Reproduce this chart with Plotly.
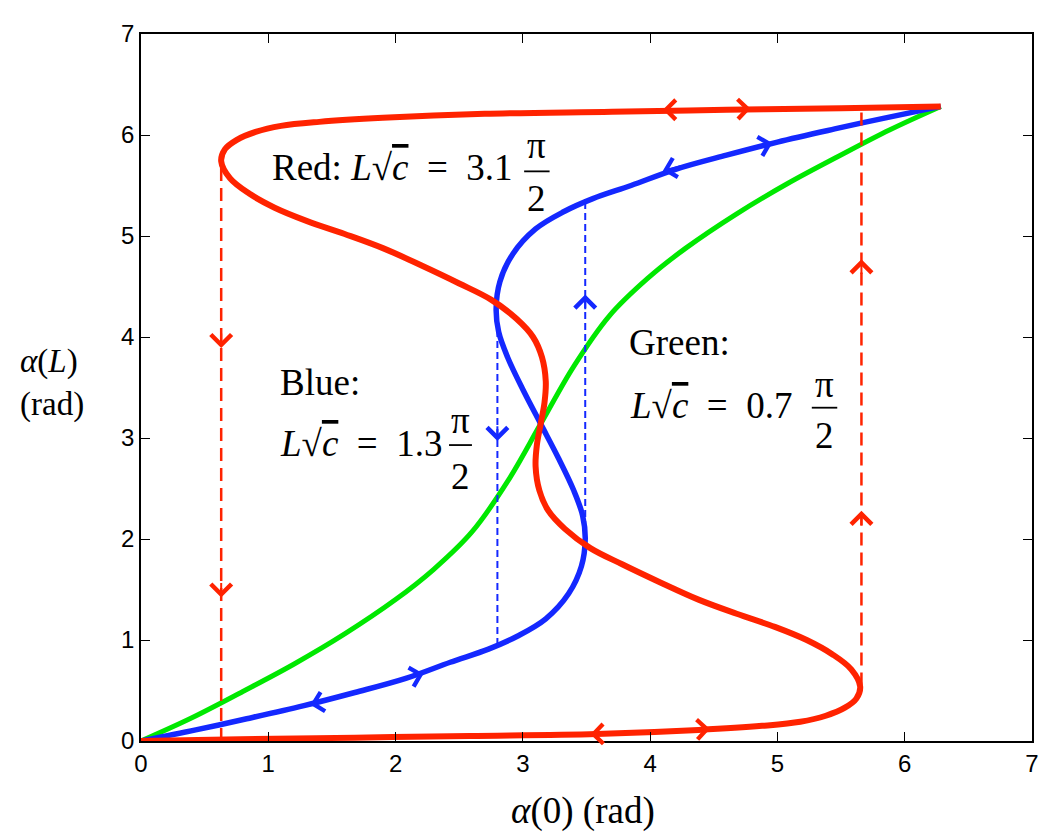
import plotly.graph_objects as go

# Red: L*sqrt(c) = 3.1*pi/2
red_x = [0.0, 0.78, 1.68, 2.58, 3.58, 4.38, 4.88, 5.18, 5.38, 5.53, 5.62, 5.65,
         5.58, 5.43, 5.23, 4.98, 4.68, 4.38, 4.08, 3.78, 3.53, 3.33, 3.20, 3.13, 3.10, 3.11,
         3.14, 3.17, 3.18, 3.15, 3.08, 2.95, 2.75, 2.50, 2.20, 1.90, 1.60, 1.30, 1.05, 0.85,
         0.70, 0.63, 0.66, 0.75, 0.90, 1.10, 1.40, 1.90, 2.70, 3.70, 4.60, 5.50, 6.283]
red_y = [0.0, 0.018, 0.033, 0.05, 0.07, 0.11, 0.15, 0.19, 0.25, 0.33, 0.42, 0.54,
         0.71, 0.86, 1.00, 1.13, 1.26, 1.40, 1.57, 1.75, 1.91, 2.10, 2.28, 2.48, 2.72, 2.93,
         3.14, 3.35, 3.56, 3.80, 4.00, 4.18, 4.37, 4.53, 4.71, 4.88, 5.02, 5.15, 5.28, 5.42,
         5.57, 5.74, 5.86, 5.95, 6.03, 6.09, 6.13, 6.17, 6.21, 6.23, 6.25, 6.265, 6.283]

# Blue: L*sqrt(c) = 1.3*pi/2
blue_x = [0.0, 0.43, 0.83, 1.28, 1.68, 2.08, 2.43, 2.73, 2.96, 3.18, 3.36, 3.46, 3.49, 3.47,
          3.40, 3.28, 3.14, 3.00, 2.88, 2.81, 2.79, 2.82, 2.92, 3.10, 3.32, 3.55, 3.85, 4.20,
          4.60, 5.00, 5.45, 5.85, 6.283]
blue_y = [0.0, 0.11, 0.22, 0.35, 0.48, 0.62, 0.78, 0.91, 1.04, 1.21, 1.46, 1.73, 2.00, 2.23,
          2.48, 2.80, 3.14, 3.48, 3.80, 4.05, 4.28, 4.55, 4.82, 5.07, 5.24, 5.37, 5.50, 5.66,
          5.80, 5.93, 6.06, 6.17, 6.283]

# Green: L*sqrt(c) = 0.7*pi/2
green_x = [0.0, 0.4, 0.8, 1.2, 1.6, 2.0, 2.3, 2.6, 2.88, 3.14, 3.40, 3.68, 3.98, 4.28, 4.68,
           5.08, 5.48, 5.88, 6.283]
green_y = [0.0, 0.23, 0.49, 0.76, 1.06, 1.40, 1.70, 2.07, 2.57, 3.14, 3.71, 4.21, 4.58, 4.88,
           5.22, 5.52, 5.79, 6.05, 6.283]

# vertical jumps (dashed): x, y_start, y_end
red_jump_x = [0.63, 5.66]
red_jump_y0 = [0.0, 0.55]
red_jump_y1 = [5.74, 6.27]
blue_jump_x = [2.80, 3.49]
blue_jump_y0 = [0.95, 2.00]
blue_jump_y1 = [4.28, 5.35]

# direction arrows: tip x, tip y, tail x, tail y
red_curve_arrows = [(4.10, 6.25, 4.25, 6.25), (4.79, 6.26, 4.64, 6.255),
                    (3.53, 0.068, 3.68, 0.072), (4.47, 0.12, 4.32, 0.11)]
red_jump_arrows = [(0.63, 3.89, 0.63, 4.05), (0.63, 1.42, 0.63, 1.58),
                   (5.66, 2.28, 5.66, 2.12), (5.66, 4.77, 5.66, 4.61)]
blue_curve_arrows = [(4.96, 5.92, 4.81, 5.87), (4.10, 5.645, 4.25, 5.695),
                     (2.22, 0.665, 2.07, 0.615), (1.33, 0.36, 1.48, 0.405)]
blue_jump_arrows = [(2.80, 2.97, 2.80, 3.13), (3.49, 4.42, 3.49, 4.26)]

RED = 'rgb(255,35,0)'
BLUE = 'rgb(20,40,255)'
GREEN = 'rgb(0,232,0)'
SERIF = 'Liberation Serif'

fig = go.Figure()

fig.add_trace(go.Scatter(x=green_x, y=green_y, mode='lines', line=dict(color=GREEN, width=5, shape='spline')))
fig.add_trace(go.Scatter(x=blue_x, y=blue_y, mode='lines', line=dict(color=BLUE, width=5.5, shape='spline')))
fig.add_trace(go.Scatter(x=red_x, y=red_y, mode='lines', line=dict(color=RED, width=6, shape='spline')))

for x, y0, y1 in zip(red_jump_x, red_jump_y0, red_jump_y1):
    fig.add_trace(go.Scatter(x=[x, x], y=[y0, y1], mode='lines',
                             line=dict(color=RED, width=2.5, dash='13px,7px')))
for x, y0, y1 in zip(blue_jump_x, blue_jump_y0, blue_jump_y1):
    fig.add_trace(go.Scatter(x=[x, x], y=[y0, y1], mode='lines',
                             line=dict(color=BLUE, width=2, dash='7px,4px')))

annotations = []
for arrows, col, size in ((red_curve_arrows, RED, 1.9), (red_jump_arrows, RED, 2.0),
                          (blue_curve_arrows, BLUE, 1.9), (blue_jump_arrows, BLUE, 2.0)):
    for x, y, tx, ty in arrows:
        annotations.append(dict(x=x, y=y, ax=tx, ay=ty, xref='x', yref='y', axref='x', ayref='y',
                                text='', showarrow=True, arrowhead=4, arrowsize=size,
                                arrowwidth=2, arrowcolor=col, standoff=0))

txt = dict(family=SERIF, size=37, color='black')
sqrt_c = "<i>L</i>√<span style='text-decoration:overline'><i>c</i></span>"
eq = '\u2002=\u2002'


def label(x, y, text, anchor='left'):
    annotations.append(dict(x=x, y=y, xref='x', yref='y', text=text, showarrow=False,
                            xanchor=anchor, yanchor='middle', font=txt))


# Red label
label(1.01, 5.68, 'Red: ' + sqrt_c + eq + '3.1')
label(3.11, 5.90, 'π', 'center')
label(3.11, 5.37, '2', 'center')
# Blue label
label(1.075, 3.55, 'Blue:')
label(1.075, 2.95, sqrt_c + eq + '1.3')
label(2.51, 3.17, 'π', 'center')
label(2.51, 2.62, '2', 'center')
# Green label
label(3.82, 3.95, 'Green:')
label(3.825, 3.32, sqrt_c + eq + '0.7')
label(5.37, 3.53, 'π', 'center')
label(5.37, 3.02, '2', 'center')

# axis titles
annotations.append(dict(x=0.496, y=-0.099, xref='paper', yref='paper', text='<i>α</i>(0) (rad)',
                        showarrow=False, xanchor='center', yanchor='middle',
                        font=dict(family=SERIF, size=37, color='black')))
annotations.append(dict(x=-0.138, y=0.506, xref='paper', yref='paper',
                        text='<i>α</i>(<i>L</i>)<br>(rad)', align='left',
                        showarrow=False, xanchor='left', yanchor='middle',
                        font=dict(family=SERIF, size=33, color='black')))

# fraction bars
shapes = []
for x0, x1, y in ((3.01, 3.21, 5.64), (2.42, 2.60, 2.93), (5.27, 5.47, 3.30)):
    shapes.append(dict(type='line', xref='x', yref='y', x0=x0, x1=x1, y0=y, y1=y,
                       line=dict(color='black', width=1.8)))

axis = dict(range=[0, 7], dtick=1, showgrid=False, zeroline=False, showline=True,
            linecolor='black', linewidth=1.5, mirror='ticks', ticks='inside', ticklen=9,
            tickwidth=1.3, tickcolor='black',
            tickfont=dict(family='Liberation Sans', size=24, color='black'))

fig.update_layout(
    width=1050, height=832,
    margin=dict(l=133, r=26, t=26, b=99),
    paper_bgcolor='white', plot_bgcolor='white',
    showlegend=False,
    xaxis=axis, yaxis=axis,
    annotations=annotations, shapes=shapes,
)

fig.write_html("out.html")
